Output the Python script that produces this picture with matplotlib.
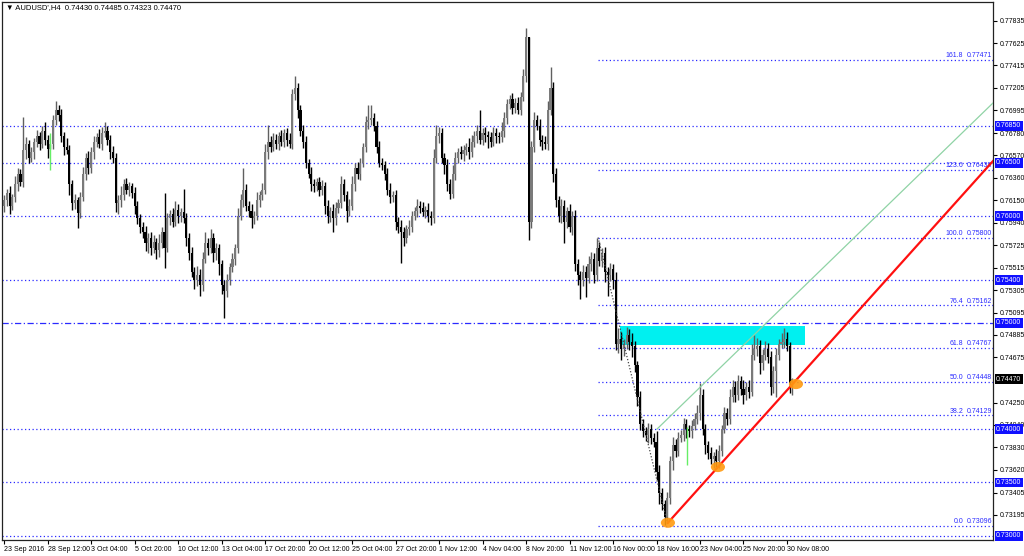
import numpy as np
import matplotlib.pyplot as plt
from matplotlib.patches import Ellipse, Rectangle
from matplotlib.transforms import blended_transform_factory

plt.rcParams['font.family'] = ['Liberation Sans', 'DejaVu Sans']

# H4 closes in pips (price * 10000), 23 Sep 20:00 .. 30 Nov 16:00
closes = [
    7615, 7622, 7610, 7618, 7630, 7640, 7632, 7662, 7668, 7655,
    7660, 7670, 7675, 7668, 7680, 7672, 7663, 7668, 7690, 7700,
    7695, 7675, 7665, 7662, 7630, 7612, 7615, 7603, 7618, 7640,
    7655, 7645, 7660, 7670, 7674, 7668, 7678, 7680, 7672, 7660,
    7655, 7612, 7615, 7620, 7630, 7625, 7628, 7622, 7610, 7598,
    7590, 7585, 7575, 7580, 7570, 7576, 7568, 7575, 7585, 7570,
    7598, 7602, 7595, 7606, 7600, 7604, 7598, 7580, 7565, 7548,
    7540, 7545, 7535, 7560, 7575, 7570, 7580, 7565, 7570, 7555,
    7535, 7530, 7540, 7552, 7560, 7570, 7600, 7615, 7625, 7610,
    7605, 7598, 7600, 7615, 7620, 7625, 7660, 7670, 7665, 7672,
    7668, 7675, 7670, 7678, 7672, 7668, 7715, 7720, 7700, 7680,
    7670, 7650, 7640, 7630, 7628, 7632, 7625, 7628, 7610, 7600,
    7605, 7598, 7608, 7612, 7630, 7620, 7605, 7610, 7630, 7645,
    7640, 7650, 7665, 7688, 7690, 7692, 7685, 7665, 7650, 7648,
    7640, 7625, 7618, 7620, 7595, 7590, 7585, 7580, 7588, 7590,
    7600, 7605, 7610, 7608, 7604, 7606, 7600, 7598, 7655, 7675,
    7678, 7655, 7648, 7630, 7621, 7640, 7655, 7660, 7658, 7662,
    7665, 7660, 7670, 7675, 7680, 7672, 7678, 7676, 7674, 7670,
    7678, 7675, 7674, 7680, 7692, 7705, 7710, 7702, 7706, 7700,
    7712, 7732, 7768, 7595, 7665, 7690, 7685, 7672, 7670, 7668,
    7700, 7720, 7640, 7615, 7600, 7610, 7595, 7605, 7590, 7600,
    7555, 7545, 7540, 7548, 7542, 7555, 7560, 7545, 7570, 7558,
    7565, 7548, 7545, 7550, 7540, 7480, 7485, 7475, 7480, 7488,
    7482, 7478, 7460, 7430, 7405, 7398, 7395, 7400, 7392, 7388,
    7360, 7340, 7330, 7318, 7335, 7370, 7385, 7380, 7392, 7395,
    7405, 7400, 7398, 7403, 7410, 7415, 7432, 7400, 7385, 7378,
    7372, 7375, 7370, 7380, 7400, 7415, 7410, 7430, 7440, 7432,
    7445, 7438, 7432, 7440, 7435, 7470, 7475, 7478, 7462, 7470,
    7475, 7468, 7440, 7455, 7470, 7480, 7482, 7485, 7478, 7443,
    7447,
]
first_open = 7610

# upper / lower wick lengths in pips
upper_wick = [
    5, 4, 6, 3, 8, 5, 4, 31, 6, 4,
    5, 3, 6, 4, 5, 8, 4, 0, 5, 8,
    4, 6, 4, 8, 5, 4, 6, 3, 5, 6,
    4, 6, 5, 5, 4, 8, 6, 8, 5, 4,
    6, 4, 5, 8, 5, 6, 4, 3, 5, 4,
    4, 5, 6, 4, 5, 6, 4, 8, 5, 37,
    5, 4, 6, 8, 5, 4, 22, 5, 4, 6,
    4, 8, 5, 6, 10, 5, 8, 4, 5, 4,
    4, 5, 6, 4, 5, 4, 8, 6, 20, 5,
    4, 6, 5, 8, 4, 6, 8, 16, 5, 6,
    5, 4, 6, 4, 5, 6, 4, 12, 5, 4,
    6, 5, 4, 6, 5, 4, 5, 6, 4, 5,
    4, 6, 5, 4, 8, 5, 4, 6, 8, 5,
    6, 5, 4, 6, 14, 12, 5, 4, 6, 5,
    4, 5, 6, 4, 5, 4, 6, 5, 4, 6,
    5, 4, 6, 4, 5, 4, 6, 5, 8, 11,
    6, 5, 4, 6, 5, 8, 5, 4, 6, 5,
    4, 8, 6, 5, 6, 20, 5, 6, 4, 5,
    6, 5, 4, 8, 6, 5, 4, 6, 5, 6,
    5, 6, 9, 0, 6, 8, 5, 6, 4, 5,
    8, 20, 6, 5, 4, 6, 5, 4, 6, 5,
    6, 5, 4, 6, 5, 8, 6, 5, 10, 6,
    5, 6, 4, 6, 5, 8, 10, 6, 5, 8,
    6, 8, 5, 4, 6, 5, 4, 6, 5, 4,
    10, 6, 5, 4, 6, 5, 8, 6, 5, 4,
    6, 5, 4, 6, 5, 8, 11, 6, 5, 4,
    5, 4, 6, 5, 4, 6, 5, 8, 6, 5,
    6, 5, 8, 4, 6, 10, 13, 8, 6, 5,
    8, 6, 5, 4, 6, 5, 8, 10, 6, 4,
    1.5,
]
lower_wick = [
    6, 5, 8, 4, 5, 6, 4, 5, 8, 5,
    4, 6, 5, 6, 4, 5, 8, 0, 5, 4,
    6, 5, 8, 4, 10, 6, 5, 14, 5, 4,
    6, 5, 4, 6, 5, 4, 6, 4, 5, 6,
    5, 8, 10, 6, 5, 4, 6, 5, 8, 5,
    6, 5, 8, 10, 6, 5, 8, 6, 5, 19,
    4, 6, 5, 4, 6, 5, 4, 8, 6, 5,
    8, 6, 10, 5, 4, 6, 5, 8, 6, 10,
    8, 26, 6, 5, 4, 6, 5, 4, 6, 5,
    6, 9, 5, 4, 6, 5, 4, 6, 5, 4,
    5, 6, 4, 5, 6, 4, 5, 6, 8, 5,
    6, 5, 4, 6, 5, 4, 6, 5, 8, 6,
    5, 13, 6, 5, 4, 6, 10, 5, 4, 6,
    5, 6, 4, 5, 6, 4, 5, 6, 4, 5,
    6, 5, 6, 5, 8, 6, 29, 8, 5, 6,
    5, 4, 6, 5, 4, 6, 5, 6, 4, 5,
    6, 5, 8, 6, 5, 4, 6, 5, 4, 6,
    5, 6, 4, 5, 6, 4, 5, 6, 10, 5,
    4, 6, 5, 4, 6, 5, 4, 6, 5, 4,
    5, 4, 6, 17, 6, 5, 4, 6, 8, 5,
    6, 5, 8, 6, 5, 6, 20, 6, 5, 8,
    6, 10, 18, 6, 18, 5, 6, 8, 6, 5,
    6, 10, 20, 6, 8, 6, 8, 10, 6, 5,
    8, 10, 6, 8, 6, 5, 6, 8, 6, 5,
    8, 10, 6, 8, 6, 5, 8, 6, 5, 4,
    6, 8, 5, 6, 4, 5, 6, 5, 8, 6,
    5, 8, 5, 6, 5, 4, 6, 5, 4, 6,
    5, 6, 8, 5, 6, 4, 5, 6, 10, 6,
    5, 6, 8, 6, 25, 5, 4, 6, 5, 9,
    10.7,
]

# levels
round_levels = [0.7685, 0.7650, 0.7600, 0.7540, 0.7400, 0.7350, 0.7300]
half_level = 0.7500
fib_pct = ['161.8', '123.6', '100.0', '76.4', '61.8', '50.0', '38.2', '0.0']
fib_vals = [0.77471, 0.76438, 0.75800, 0.75162, 0.74767, 0.74448, 0.74129, 0.73096]
price_ticks = [0.77835, 0.77625, 0.77415, 0.77205, 0.76995, 0.76780, 0.76570,
               0.76360, 0.76150, 0.75940, 0.75725, 0.75515, 0.75305, 0.75095,
               0.74885, 0.74675, 0.74250, 0.74040, 0.73830, 0.73620,
               0.73405, 0.73195]
time_labels = ['23 Sep 2016', '28 Sep 12:00', '3 Oct 04:00', '5 Oct 20:00',
               '10 Oct 12:00', '13 Oct 04:00', '17 Oct 20:00', '20 Oct 12:00',
               '25 Oct 04:00', '27 Oct 20:00', '1 Nov 12:00', '4 Nov 04:00',
               '8 Nov 20:00', '11 Nov 12:00', '16 Nov 00:00', '18 Nov 16:00',
               '23 Nov 04:00', '25 Nov 20:00', '30 Nov 08:00']
last_price = 0.74470

c = np.array(closes, dtype=float) / 1e4
o = np.r_[first_open, closes[:-1]].astype(float) / 1e4
hi = np.maximum(o, c) + np.array(upper_wick) / 1e4
lo = np.minimum(o, c) - np.array(lower_wick) / 1e4
x = np.arange(len(c))
bull = c >= o

fig = plt.figure(figsize=(10.24, 5.56), dpi=100)
ax = fig.add_axes([2 / 1024, 16 / 556, 991 / 1024, 538 / 556])
ax.set_xlim(-0.8, 363.8)
ax.set_ylim(0.72960, 0.78011)

blue = '#2a2aff'
for lv in round_levels:
    ax.axhline(lv, color=blue, lw=0.9, dashes=(1, 2), zorder=1)
ax.axhline(half_level, color=blue, lw=0.9, dashes=(5, 2, 1, 2), zorder=1)

fib_x0 = 218.5
for p, v in zip(fib_pct, fib_vals):
    ax.plot([fib_x0, 363.8], [v, v], color=blue, lw=0.9, dashes=(1, 2), zorder=1)
    ax.text(352.8, v + 0.00008, p, color=blue, fontsize=5, ha='right', va='bottom')
    ax.text(363.4, v + 0.00008, '%.5f' % v, color=blue, fontsize=5, ha='right', va='bottom')

# supply zone
ax.add_patch(Rectangle((226.5, 0.74791), 68.0, 0.00181, color='#00f0f0', zorder=1.5, lw=0))

# candles
wick_col = np.where(bull, '#606060', '#000000')
body_col = np.where(bull, '#7a7a7a', '#000000')
ax.vlines(x, lo, hi, colors=wick_col, lw=1.0, zorder=2)
ax.bar(x, np.maximum(np.abs(c - o), 0.00004), bottom=np.minimum(o, c), width=0.78,
       color=body_col, lw=0, zorder=2.2)
ax.vlines([17, 251.2], [0.76432, 0.73664], [0.76780, 0.74021], colors='#66ee66', lw=1.0, zorder=3)

# fib anchor line, trend lines
ax.plot([fib_x0, 244.2], [0.75800, 0.73096], color='#444444', lw=0.9, dashes=(1, 1.5), zorder=3)
ax.plot([240.2, 363.8], [0.74002, 0.77063], color='#8fd3a5', lw=0.9, zorder=3)
ax.plot([244.2, 363.8], [0.73122, 0.76518], color='#ff1010', lw=1.6, zorder=3)

for ex, ey in [(244.2, 0.73122), (262.6, 0.73645), (291.3, 0.74424)]:
    ax.add_patch(Ellipse((ex, ey), 5.2, 0.00095, color='#ff9a10', alpha=0.9, zorder=4, lw=0))

# axes styling
ax.yaxis.tick_right()
ax.set_yticks(price_ticks)
ax.set_yticklabels(['%.5f' % t for t in price_ticks])
ax.set_xticks(np.arange(len(time_labels)) * 16)
ax.set_xticklabels(time_labels)
for lbl in ax.get_xticklabels():
    lbl.set_ha('left')
ax.tick_params(axis='y', direction='out', length=3, pad=1.5, labelsize=5, width=0.8)
ax.tick_params(axis='x', direction='out', length=3, pad=1.5, labelsize=5, width=0.8)
for sp in ax.spines.values():
    sp.set_linewidth(0.9)
    sp.set_color('#222222')

tr = blended_transform_factory(ax.transAxes, ax.transData)
for lv in round_levels + [half_level]:
    ax.text(1.003, lv, '%.5f' % lv, transform=tr, color='white', fontsize=5, ha='left',
            va='center', zorder=6, clip_on=False,
            bbox=dict(boxstyle='square,pad=0.2', fc='#1010ff', ec='none'))
ax.text(1.003, last_price, '%.5f' % last_price, transform=tr, color='white', fontsize=5,
        ha='left', va='center', zorder=6, clip_on=False,
        bbox=dict(boxstyle='square,pad=0.2', fc='black', ec='none'))

ax.text(0.004, 0.997, "\u25bc AUDUSD',H4  0.74430 0.74485 0.74323 0.74470", transform=ax.transAxes,
        fontsize=5.5, ha='left', va='top', family=['Liberation Sans', 'DejaVu Sans'])

fig.savefig('out.png', dpi=100, facecolor='white')
